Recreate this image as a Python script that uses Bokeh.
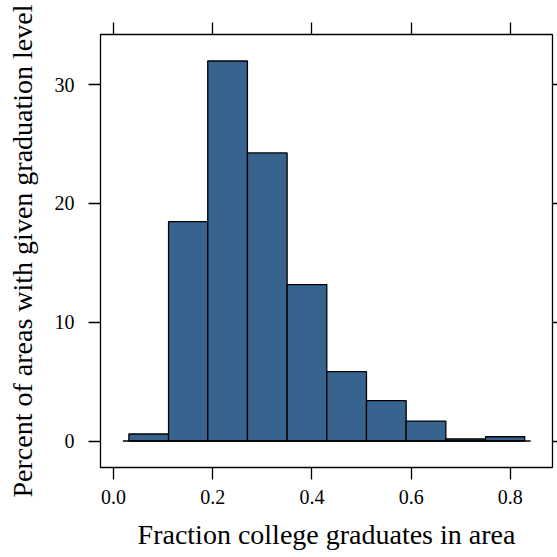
from bokeh.plotting import figure
from bokeh.models import Range1d, LinearAxis, FixedTicker, ColumnDataSource
from bokeh.embed import file_html
from bokeh.resources import INLINE

# Data
bin_left = [0.031, 0.111, 0.190, 0.270, 0.350, 0.430, 0.510, 0.590, 0.670, 0.750]
bin_right = [0.111, 0.190, 0.270, 0.350, 0.430, 0.510, 0.590, 0.670, 0.750, 0.829]
percent = [0.59, 18.47, 32.0, 24.26, 13.17, 5.84, 3.40, 1.68, 0.17, 0.36]
x_ticks = [0.0, 0.2, 0.4, 0.6, 0.8]
x_tick_labels = ["0.0", "0.2", "0.4", "0.6", "0.8"]
y_ticks = [0, 10, 20, 30]
y_tick_labels = ["0", "10", "20", "30"]
x_label = "Fraction college graduates in area"
y_label = "Percent of areas with given graduation level"

FONT = "Liberation Serif"
BAR_COLOR = "#37648F"

p = figure(width=557, height=557, output_backend="svg", toolbar_location=None,
           x_range=Range1d(-0.0262, 0.885), y_range=Range1d(-2.23, 34.23),
           x_axis_location=None, y_axis_location=None,
           min_border_left=100, min_border_right=5, min_border_top=34, min_border_bottom=90)
p.xgrid.visible = False
p.ygrid.visible = False
p.outline_line_color = "black"
p.outline_line_width = 1.3
p.background_fill_color = "white"
p.border_fill_color = "white"

src = ColumnDataSource(dict(left=bin_left, right=bin_right, top=percent,
                            bottom=[0] * len(percent)))
p.quad(left="left", right="right", top="top", bottom="bottom", source=src,
       fill_color=BAR_COLOR, line_color="black", line_width=1.3)

# baseline at zero spanning the bins (slightly extended)
span = bin_right[-1] - bin_left[0]
p.segment(x0=[bin_left[0] - 0.015 * span], x1=[bin_right[-1] + 0.015 * span],
          y0=[0], y1=[0], line_color="black", line_width=1.3)


def style(ax, labels=True):
    ax.major_tick_out = 12
    ax.major_tick_in = 0
    ax.minor_tick_out = 0
    ax.minor_tick_in = 0
    ax.axis_line_color = None
    ax.major_tick_line_color = "black"
    ax.major_tick_line_width = 1.3
    ax.major_label_text_font = FONT
    ax.major_label_text_color = "black"
    ax.axis_label_text_font = FONT
    ax.axis_label_text_font_style = "normal"
    ax.axis_label_text_color = "black"
    if not labels:
        ax.major_label_text_color = None
        ax.major_label_text_font_size = "1px"
        ax.major_label_standoff = 0


xb = LinearAxis(ticker=FixedTicker(ticks=x_ticks),
                major_label_overrides=dict(zip(x_ticks, x_tick_labels)))
style(xb)
xb.major_label_text_font_size = "20px"
xb.major_label_standoff = 10
xb.axis_label = x_label
xb.axis_label_text_font_size = "28px"
xb.axis_label_standoff = 12
p.add_layout(xb, "below")

xt = LinearAxis(ticker=FixedTicker(ticks=x_ticks))
style(xt, labels=False)
p.add_layout(xt, "above")

yl = LinearAxis(ticker=FixedTicker(ticks=y_ticks),
                major_label_overrides=dict(zip(y_ticks, y_tick_labels)))
style(yl)
yl.major_label_text_font_size = "20px"
yl.major_label_standoff = 14
yl.major_label_orientation = "horizontal"
yl.axis_label = y_label
yl.axis_label_text_font_size = "28px"
yl.axis_label_standoff = 14
p.add_layout(yl, "left")

yr = LinearAxis(ticker=FixedTicker(ticks=y_ticks))
style(yr, labels=False)
yr.major_tick_out = 5
p.add_layout(yr, "right")

open("out.html", "w").write(file_html(p, INLINE))
